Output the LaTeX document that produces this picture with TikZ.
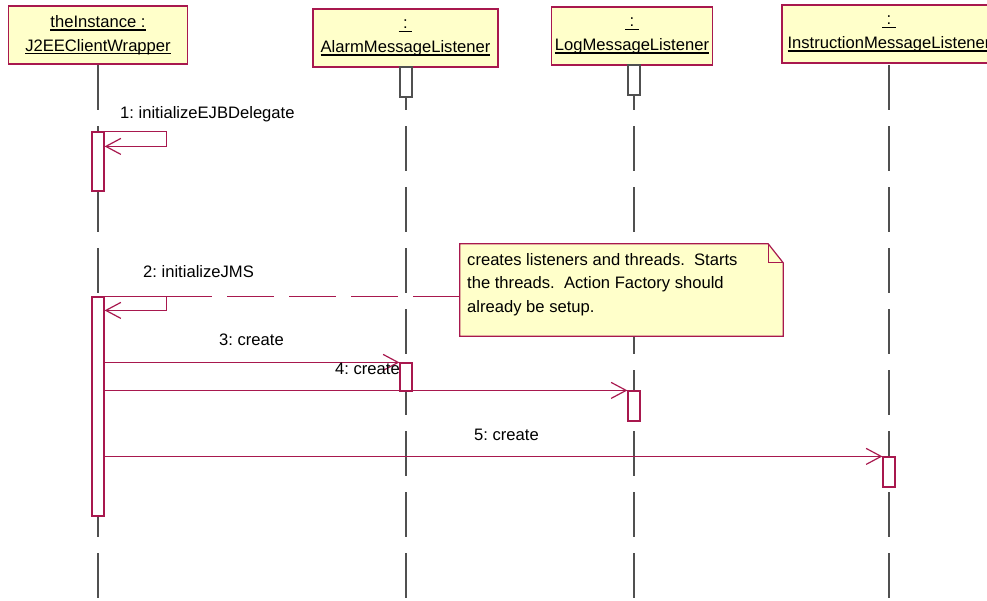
\documentclass[tikz,border=0pt]{standalone}
\usepackage{fontspec}
\setmainfont{Liberation Sans}
\usetikzlibrary{arrows.meta}

\definecolor{umlred}{HTML}{A8184E}
\definecolor{umlfill}{HTML}{FFFFCA}
\definecolor{lifegray}{HTML}{505050}

% underlined object names with a firm rule
\newcommand{\myul}[1]{\setbox0\hbox{#1}\rlap{\rule[-3.2pt]{\wd0}{1.3pt}}\box0}
\frenchspacing

\tikzset{
  txt/.style={font=\fontsize{16.6}{23.5}\selectfont, inner sep=0pt},
  objbox/.style={draw=umlred, fill=umlfill, line width=1.2pt, minimum height=58pt,
    inner sep=0pt, align=center, font=\fontsize{16.6}{23.5}\selectfont},
  actbar/.style={draw=umlred, fill=white, line width=1.2pt, minimum width=12pt, inner sep=0pt},
  stubbar/.style={draw=lifegray, fill=white, line width=1.1pt, minimum width=12pt,
    minimum height=30pt, inner sep=0pt},
  lifeline/.style={draw=lifegray, line width=1.2pt, dash pattern=on 45pt off 16pt},
  msg/.style={draw=umlred, line width=1.2pt, -{Straight Barb[length=15pt,width=16pt]}},
  notelink/.style={draw=umlred, line width=1.2pt, dash pattern=on 47pt off 15pt},
  notebox/.style={draw=umlred, fill=umlfill, line width=1.2pt},
}

\begin{document}
\begin{tikzpicture}[x=1pt, y=-1pt]
\useasboundingbox (0,0) rectangle (987,600);
\clip (0,0) rectangle (987,600);

% lifeline tops and common bottom
\coordinate (ll0) at (98,65);
\coordinate (llA) at (406,65);
\coordinate (llL) at (634,65);
\coordinate (llI) at (889,65);
\coordinate (llbot) at (0,600);

% lifelines
\draw[lifeline] (ll0) -- (ll0 |- llbot);
\draw[lifeline] (llA) -- (llA |- llbot);
\draw[lifeline] (llL) -- (llL |- llbot);
\draw[lifeline] (llI) -- (llI |- llbot);

% object headers
\node[objbox, minimum width=179pt] (hdr0) at (98,35)
  {\myul{theInstance :}\\\myul{J2EEClientWrapper}};
\node[objbox, minimum width=185pt] (hdrA) at (405.5,38)
  {\myul{\ :\ }\\\myul{AlarmMessageListener}};
\node[objbox, minimum width=161pt] (hdrL) at (632,36)
  {\myul{\ :\ }\\\myul{LogMessageListener}};
\node[objbox, minimum width=214pt] (hdrI) at (889,34)
  {\myul{\ :\ }\\\myul{InstructionMessageListener}};

% creation stubs under the listener headers
\node[stubbar] (stubA) at (406,82) {};
\node[stubbar] (stubL) at (634,80) {};

% activation bars
\node[actbar, minimum height=59pt]  (act1) at (98,161.5) {};
\node[actbar, minimum height=219pt] (act2) at (98,406.5) {};
\node[actbar, minimum height=28pt]  (actA) at (406,377) {};
\node[actbar, minimum height=30pt]  (actL) at (634,406) {};
\node[actbar, minimum height=30pt]  (actI) at (889,472) {};

% note with folded corner
\node[minimum width=323pt, minimum height=92pt, inner sep=0pt] (note) at (621.5,290) {};
\draw[notelink] (note.west |- act2.north east) -- (act2.north east);
\path[notebox] (note.north west) -- ([xshift=-15pt]note.north east)
  -- ([yshift=-19pt]note.north east) -- (note.south east) -- (note.south west) -- cycle;
\draw[umlred, line width=1.2pt] ([xshift=-15pt]note.north east) |- ([yshift=-19pt]note.north east);
\node[txt, anchor=north west, align=left] (notetext) at (467,253)
  {creates listeners and threads.\ \ Starts\\the threads.\ \ Action Factory should\\already be setup.};

% messages
\draw[msg] (act1.north east) -| ++(62,15) -- ++(-62,0);
\draw[msg] (act2.north east) -| ++(62,14) -- ++(-62,0);
\draw[msg] (act2.east |- actA.north west) -- (actA.north west);
\draw[msg] (act2.east |- actL.north west) -- (actL.north west);
\draw[msg] (act2.east |- actI.north west) -- (actI.north west);

% message labels
\node[txt, anchor=west] (lbl1) at (120,114) {1: initializeEJBDelegate};
\node[txt, anchor=west] (lbl2) at (143,272) {2: initializeJMS};
\node[txt, anchor=west] (lbl3) at (219,340) {3: create};
\node[txt, anchor=west] (lbl4) at (335,369) {4: create};
\node[txt, anchor=west] (lbl5) at (474,435) {5: create};
\end{tikzpicture}
\end{document}
